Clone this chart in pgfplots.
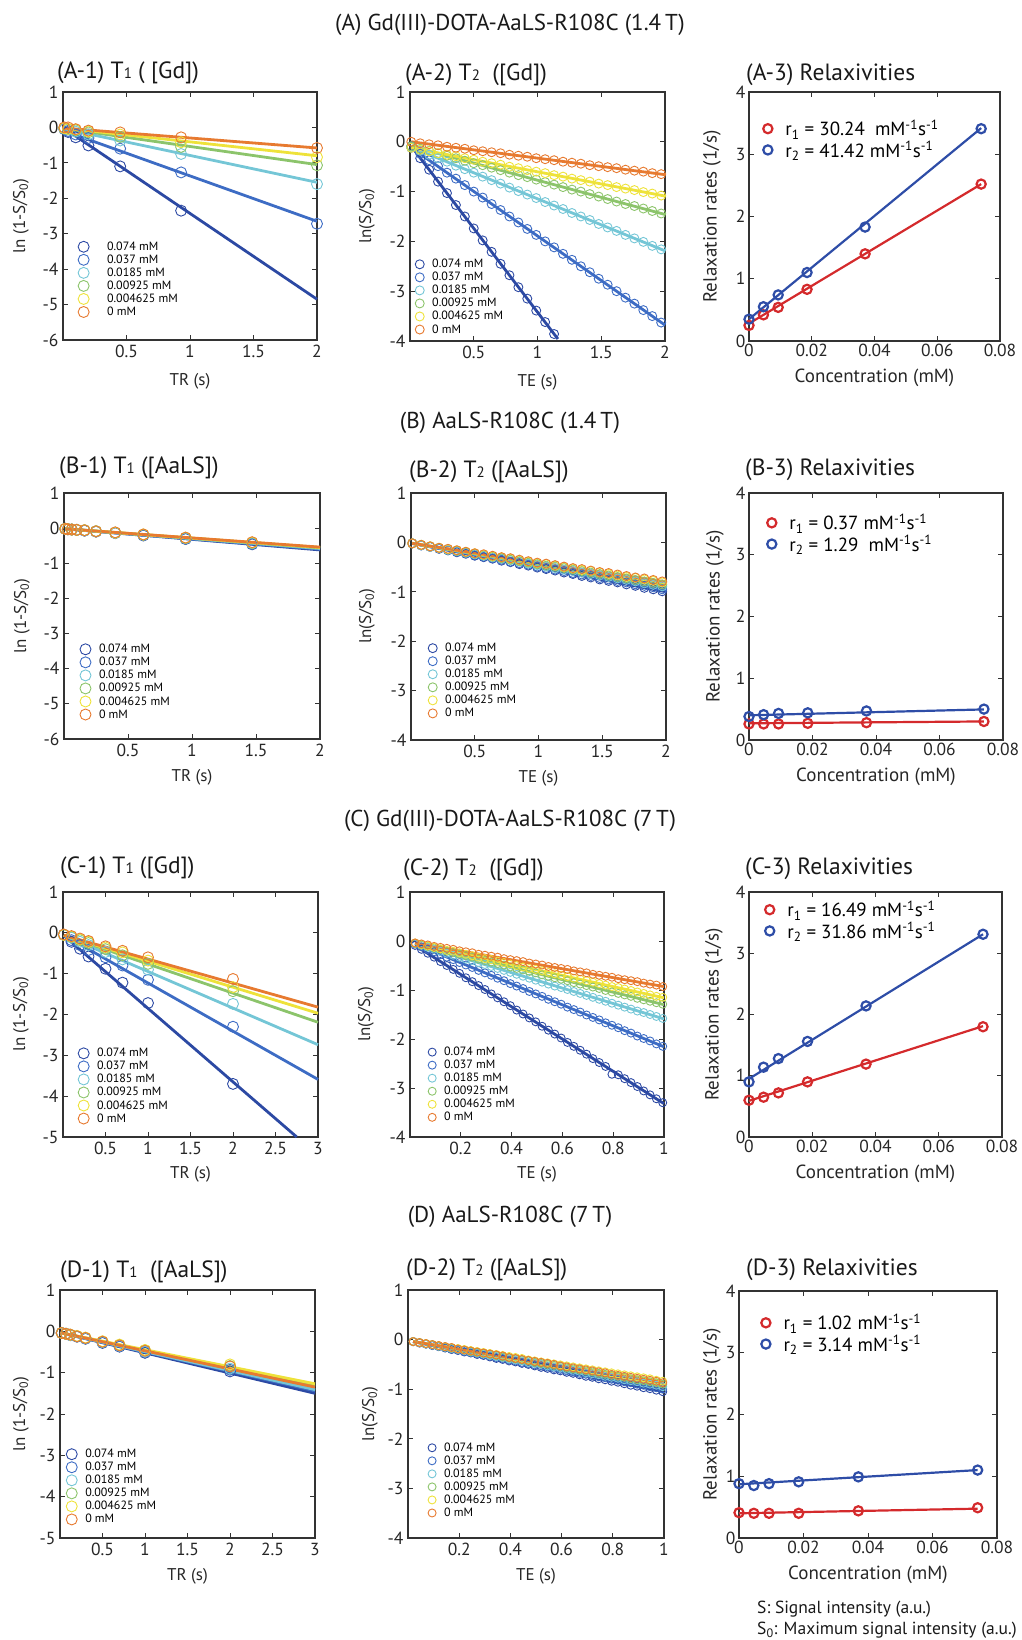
\documentclass[border=0pt]{standalone}
\usepackage{pgfplots}
\pgfplotsset{compat=1.18}
\usepackage{pgfplotstable}
\usepackage{fontspec}
\setmainfont{PT Sans}

\definecolor{cA}{HTML}{2C49A3}
\definecolor{cB}{HTML}{3D6CC4}
\definecolor{cC}{HTML}{74C6D6}
\definecolor{cD}{HTML}{8CC46B}
\definecolor{cE}{HTML}{EEE23A}
\definecolor{cF}{HTML}{E77A30}
\definecolor{rred}{HTML}{D42A2C}
\definecolor{rblue}{HTML}{2E4DA7}
\definecolor{axc}{HTML}{333333}

% T1 / T2 data: t = TR or TE (s), a..f = 0.074, 0.037, 0.0185, 0.00925, 0.004625, 0 mM
\pgfplotstableread{
t a b c d e f
0.01 -0.03 -0.05 -0.03 -0.02 -0.02 0.00
0.04 -0.13 -0.10 -0.06 -0.05 -0.04 0.00
0.10 -0.28 -0.20 -0.12 -0.08 -0.06 -0.05
0.20 -0.51 -0.30 -0.20 -0.14 -0.11 -0.09
0.45 -1.10 -0.60 -0.37 -0.27 -0.20 -0.14
0.93 -2.35 -1.27 -0.75 -0.55 -0.42 -0.28
2.00 nan -2.72 -1.60 -1.07 -0.84 -0.58
}\tAone

\pgfplotstableread{
t a b c d e f
0.01 -0.09 -0.12 -0.11 -0.09 -0.12 0.00
0.08 -0.33 -0.24 -0.18 -0.14 -0.16 -0.03
0.15 -0.56 -0.37 -0.26 -0.18 -0.19 -0.05
0.22 -0.80 -0.49 -0.33 -0.23 -0.23 -0.07
0.29 -1.03 -0.62 -0.40 -0.28 -0.26 -0.10
0.36 -1.27 -0.74 -0.48 -0.33 -0.29 -0.12
0.43 -1.50 -0.87 -0.55 -0.38 -0.33 -0.14
0.50 -1.74 -1.00 -0.62 -0.43 -0.36 -0.17
0.57 -1.98 -1.12 -0.70 -0.47 -0.40 -0.19
0.64 -2.21 -1.25 -0.77 -0.52 -0.43 -0.21
0.71 -2.45 -1.37 -0.84 -0.57 -0.46 -0.23
0.78 -2.68 -1.50 -0.92 -0.62 -0.50 -0.26
0.85 -2.92 -1.62 -0.99 -0.67 -0.53 -0.28
0.92 -3.15 -1.75 -1.06 -0.71 -0.57 -0.30
0.99 -3.39 -1.87 -1.13 -0.76 -0.60 -0.33
1.06 -3.62 -2.00 -1.21 -0.81 -0.63 -0.35
1.13 -3.86 -2.12 -1.28 -0.86 -0.67 -0.37
1.20 nan -2.25 -1.35 -0.91 -0.70 -0.40
1.27 nan -2.37 -1.43 -0.96 -0.74 -0.42
1.34 nan -2.50 -1.50 -1.00 -0.77 -0.44
1.41 nan -2.62 -1.57 -1.05 -0.80 -0.47
1.48 nan -2.75 -1.65 -1.10 -0.84 -0.49
1.55 nan -2.87 -1.72 -1.15 -0.87 -0.51
1.62 nan -3.00 -1.79 -1.20 -0.91 -0.53
1.69 nan -3.13 -1.87 -1.25 -0.94 -0.56
1.76 nan -3.25 -1.94 -1.29 -0.97 -0.58
1.83 nan -3.38 -2.01 -1.34 -1.01 -0.60
1.90 nan -3.50 -2.09 -1.39 -1.04 -0.63
1.97 nan -3.63 -2.16 -1.44 -1.08 -0.65
}\tAtwo

\pgfplotstableread{
t a b c d e f
0.01 -0.02 -0.02 -0.02 -0.02 -0.02 -0.02
0.03 -0.03 -0.03 -0.03 -0.03 -0.03 -0.03
0.06 -0.04 -0.04 -0.04 -0.04 -0.04 -0.04
0.10 -0.05 -0.05 -0.05 -0.05 -0.05 -0.05
0.16 -0.07 -0.07 -0.06 -0.06 -0.06 -0.06
0.25 -0.10 -0.09 -0.09 -0.09 -0.09 -0.09
0.40 -0.14 -0.14 -0.13 -0.13 -0.13 -0.12
0.62 -0.21 -0.20 -0.19 -0.19 -0.18 -0.18
0.95 -0.31 -0.30 -0.29 -0.28 -0.27 -0.27
1.47 -0.46 -0.45 -0.43 -0.42 -0.41 -0.40
}\tBone

\pgfplotstableread{
t a b c d e f
0.01 -0.02 -0.02 -0.02 -0.02 -0.02 -0.02
0.08 -0.06 -0.06 -0.06 -0.05 -0.05 -0.05
0.15 -0.09 -0.09 -0.09 -0.08 -0.08 -0.08
0.22 -0.13 -0.12 -0.12 -0.11 -0.11 -0.11
0.29 -0.16 -0.16 -0.15 -0.14 -0.14 -0.13
0.36 -0.20 -0.19 -0.18 -0.17 -0.16 -0.16
0.43 -0.23 -0.22 -0.21 -0.20 -0.19 -0.19
0.50 -0.27 -0.26 -0.24 -0.23 -0.22 -0.22
0.57 -0.30 -0.29 -0.27 -0.26 -0.25 -0.24
0.64 -0.33 -0.32 -0.30 -0.29 -0.28 -0.27
0.71 -0.37 -0.35 -0.33 -0.32 -0.30 -0.30
0.78 -0.40 -0.39 -0.36 -0.35 -0.33 -0.32
0.85 -0.44 -0.42 -0.39 -0.38 -0.36 -0.35
0.92 -0.47 -0.45 -0.43 -0.41 -0.39 -0.38
0.99 -0.51 -0.49 -0.46 -0.44 -0.42 -0.41
1.06 -0.54 -0.52 -0.49 -0.47 -0.44 -0.43
1.13 -0.57 -0.55 -0.52 -0.49 -0.47 -0.46
1.20 -0.61 -0.58 -0.55 -0.52 -0.50 -0.49
1.27 -0.64 -0.62 -0.58 -0.55 -0.53 -0.52
1.34 -0.68 -0.65 -0.61 -0.58 -0.56 -0.54
1.41 -0.71 -0.68 -0.64 -0.61 -0.58 -0.57
1.48 -0.75 -0.72 -0.67 -0.64 -0.61 -0.60
1.55 -0.78 -0.75 -0.70 -0.67 -0.64 -0.62
1.62 -0.81 -0.78 -0.73 -0.70 -0.67 -0.65
1.69 -0.85 -0.81 -0.76 -0.73 -0.70 -0.68
1.76 -0.88 -0.85 -0.79 -0.76 -0.72 -0.71
1.83 -0.92 -0.88 -0.83 -0.79 -0.75 -0.73
1.90 -0.95 -0.91 -0.86 -0.82 -0.78 -0.76
1.97 -0.99 -0.95 -0.89 -0.85 -0.81 -0.79
}\tBtwo

\pgfplotstableread{
t a b c d e f
0.01 -0.05 -0.05 -0.05 -0.05 -0.05 -0.04
0.10 -0.22 -0.18 -0.12 -0.10 -0.09 -0.08
0.20 -0.39 -0.30 -0.22 -0.18 -0.16 -0.14
0.30 -0.58 -0.42 -0.30 -0.25 -0.22 -0.20
0.50 -0.88 -0.60 -0.47 -0.40 -0.36 -0.33
0.70 -1.22 -0.80 -0.65 -0.55 -0.48 -0.44
1.00 -1.72 -1.15 -0.90 -0.76 -0.68 -0.60
2.00 -3.70 -2.30 -1.74 -1.43 -1.33 -1.13
}\tCone

\pgfplotstableread{
t a b c d e f
0.020 -0.09 -0.06 -0.05 -0.05 -0.04 -0.04
0.045 -0.17 -0.12 -0.09 -0.08 -0.07 -0.06
0.070 -0.25 -0.17 -0.13 -0.11 -0.10 -0.08
0.095 -0.33 -0.22 -0.17 -0.14 -0.13 -0.11
0.120 -0.42 -0.28 -0.21 -0.17 -0.16 -0.13
0.145 -0.50 -0.33 -0.25 -0.21 -0.19 -0.15
0.170 -0.58 -0.38 -0.29 -0.24 -0.21 -0.17
0.195 -0.66 -0.44 -0.33 -0.27 -0.24 -0.20
0.220 -0.75 -0.49 -0.37 -0.30 -0.27 -0.22
0.245 -0.83 -0.54 -0.40 -0.33 -0.30 -0.24
0.270 -0.91 -0.60 -0.44 -0.37 -0.33 -0.27
0.295 -0.99 -0.65 -0.48 -0.40 -0.36 -0.29
0.320 -1.08 -0.70 -0.52 -0.43 -0.38 -0.31
0.345 -1.16 -0.76 -0.56 -0.46 -0.41 -0.33
0.370 -1.24 -0.81 -0.60 -0.49 -0.44 -0.36
0.395 -1.32 -0.87 -0.64 -0.53 -0.47 -0.38
0.420 -1.41 -0.92 -0.68 -0.56 -0.50 -0.40
0.445 -1.49 -0.97 -0.72 -0.59 -0.53 -0.42
0.470 -1.57 -1.03 -0.76 -0.62 -0.56 -0.45
0.495 -1.65 -1.08 -0.80 -0.65 -0.58 -0.47
0.520 -1.74 -1.13 -0.84 -0.69 -0.61 -0.49
0.545 -1.82 -1.19 -0.88 -0.72 -0.64 -0.52
0.570 -1.90 -1.24 -0.92 -0.75 -0.67 -0.54
0.595 -1.98 -1.29 -0.95 -0.78 -0.70 -0.56
0.620 -2.07 -1.35 -0.99 -0.81 -0.73 -0.58
0.645 -2.15 -1.40 -1.03 -0.85 -0.76 -0.61
0.670 -2.23 -1.45 -1.07 -0.88 -0.78 -0.63
0.695 -2.31 -1.51 -1.11 -0.91 -0.81 -0.65
0.720 -2.40 -1.56 -1.15 -0.94 -0.84 -0.68
0.745 -2.48 -1.61 -1.19 -0.97 -0.87 -0.70
0.770 -2.56 -1.67 -1.23 -1.01 -0.90 -0.72
0.795 -2.72 -1.72 -1.27 -1.04 -0.93 -0.74
0.820 -2.73 -1.77 -1.31 -1.07 -0.95 -0.77
0.845 -2.81 -1.83 -1.35 -1.10 -0.98 -0.79
0.870 -2.89 -1.88 -1.39 -1.13 -1.01 -0.81
0.895 -2.97 -1.94 -1.43 -1.17 -1.04 -0.83
0.920 -3.06 -1.99 -1.46 -1.20 -1.07 -0.86
0.945 -3.14 -2.04 -1.50 -1.23 -1.10 -0.88
0.970 -3.22 -2.10 -1.54 -1.26 -1.13 -0.90
0.995 -3.30 -2.15 -1.58 -1.29 -1.15 -0.93
}\tCtwo

\pgfplotstableread{
t a b c d e f
0.02 -0.04 -0.04 -0.04 -0.04 -0.04 -0.04
0.07 -0.06 -0.06 -0.06 -0.06 -0.06 -0.06
0.12 -0.09 -0.09 -0.09 -0.08 -0.08 -0.08
0.20 -0.13 -0.12 -0.12 -0.12 -0.11 -0.12
0.30 -0.18 -0.17 -0.17 -0.16 -0.15 -0.16
0.50 -0.28 -0.27 -0.26 -0.25 -0.24 -0.25
0.70 -0.37 -0.36 -0.35 -0.33 -0.32 -0.34
1.00 -0.52 -0.50 -0.49 -0.46 -0.45 -0.47
2.00 -0.97 -0.93 -0.90 -0.84 -0.80 -0.85
}\tDone

\pgfplotstableread{
t a b c d e f
0.020 -0.04 -0.04 -0.04 -0.04 -0.04 -0.04
0.045 -0.07 -0.06 -0.06 -0.06 -0.06 -0.06
0.070 -0.09 -0.09 -0.09 -0.08 -0.08 -0.08
0.095 -0.12 -0.11 -0.11 -0.10 -0.10 -0.10
0.120 -0.14 -0.14 -0.13 -0.13 -0.12 -0.12
0.145 -0.17 -0.16 -0.15 -0.15 -0.14 -0.14
0.170 -0.20 -0.19 -0.18 -0.17 -0.16 -0.16
0.195 -0.22 -0.21 -0.20 -0.19 -0.18 -0.19
0.220 -0.25 -0.24 -0.22 -0.21 -0.20 -0.21
0.245 -0.27 -0.26 -0.25 -0.24 -0.22 -0.23
0.270 -0.30 -0.28 -0.27 -0.26 -0.24 -0.25
0.295 -0.32 -0.31 -0.29 -0.28 -0.26 -0.27
0.320 -0.35 -0.33 -0.32 -0.30 -0.28 -0.29
0.345 -0.38 -0.36 -0.34 -0.32 -0.30 -0.31
0.370 -0.40 -0.38 -0.36 -0.35 -0.32 -0.33
0.395 -0.43 -0.41 -0.39 -0.37 -0.34 -0.36
0.420 -0.45 -0.43 -0.41 -0.39 -0.36 -0.38
0.445 -0.48 -0.46 -0.43 -0.41 -0.38 -0.40
0.470 -0.50 -0.48 -0.46 -0.43 -0.41 -0.42
0.495 -0.53 -0.51 -0.48 -0.46 -0.43 -0.44
0.520 -0.56 -0.53 -0.50 -0.48 -0.45 -0.46
0.545 -0.58 -0.55 -0.53 -0.50 -0.47 -0.48
0.570 -0.61 -0.58 -0.55 -0.52 -0.49 -0.50
0.595 -0.63 -0.60 -0.57 -0.54 -0.51 -0.53
0.620 -0.66 -0.63 -0.60 -0.57 -0.53 -0.55
0.645 -0.68 -0.65 -0.62 -0.59 -0.55 -0.57
0.670 -0.71 -0.68 -0.64 -0.61 -0.57 -0.59
0.695 -0.74 -0.70 -0.67 -0.63 -0.59 -0.61
0.720 -0.76 -0.73 -0.69 -0.65 -0.61 -0.63
0.745 -0.79 -0.75 -0.71 -0.68 -0.63 -0.65
0.770 -0.81 -0.77 -0.74 -0.70 -0.65 -0.67
0.795 -0.84 -0.80 -0.76 -0.72 -0.67 -0.70
0.820 -0.86 -0.82 -0.78 -0.74 -0.69 -0.72
0.845 -0.89 -0.85 -0.81 -0.76 -0.71 -0.74
0.870 -0.92 -0.87 -0.83 -0.79 -0.73 -0.76
0.895 -0.94 -0.90 -0.85 -0.81 -0.75 -0.78
0.920 -0.97 -0.92 -0.88 -0.83 -0.77 -0.80
0.945 -0.99 -0.95 -0.90 -0.85 -0.79 -0.82
0.970 -1.02 -0.97 -0.92 -0.87 -0.82 -0.84
0.995 -1.05 -1.00 -0.95 -0.90 -0.84 -0.87
}\tDtwo

% relaxation rates (1/s): c = concentration (mM), r1, r2
\pgfplotstableread{
c r1 r2
0      0.25 0.35
0.0046 0.42 0.55
0.0093 0.54 0.74
0.0185 0.83 1.10
0.037  1.40 1.83
0.074  2.52 3.41
}\rA
\pgfplotstableread{
c r1 r2
0      0.26 0.38
0.0046 0.26 0.41
0.0093 0.26 0.43
0.0185 0.27 0.44
0.037  0.28 0.47
0.074  0.30 0.50
}\rB
\pgfplotstableread{
c r1 r2
0      0.60 0.90
0.0046 0.65 1.14
0.0093 0.72 1.28
0.0185 0.90 1.56
0.037  1.19 2.14
0.074  1.80 3.31
}\rC
\pgfplotstableread{
c r1 r2
0      0.41 0.88
0.0046 0.40 0.85
0.0093 0.40 0.88
0.0185 0.40 0.91
0.037  0.44 0.99
0.074  0.49 1.10
}\rD

\pgfplotsset{
  base/.style={scale only axis, anchor=south west, clip=false,
    scaled x ticks=false, scaled y ticks=false,
    axis line style={axc, line width=1.1pt},
    every tick/.style={axc, line width=0.8pt}, major tick length=5pt,
    tick align=inside,
    tick label style={font=\fontsize{17.5}{18}\selectfont, text=black!85},
    label style={font=\fontsize{17}{19}\selectfont, text=black!85},
    legend cell align=left},
  tpanel/.style={base,
    yticklabel style={xshift=-1pt}, xticklabel style={yshift=-2pt},
    legend style={draw=none, fill=none, anchor=north west,
      font=\fontsize{12}{13}\selectfont, row sep=1pt, column sep=7pt,
      nodes={inner sep=1pt}}},
  rpanel/.style={base, xmin=0, xmax=0.08, ymin=0, ymax=4,
    xtick={0,0.02,0.04,0.06,0.08}, xticklabels={0,0.02,0.04,0.06,0.08},
    ytick={0,1,2,3,4}, yticklabels={0,1,2,3,4},
    xlabel={Concentration (mM)}, ylabel={Relaxation rates (1/s)},
    label style={font=\fontsize{19}{21}\selectfont},
    legend style={draw=none, fill=none, anchor=north west,
      font=\fontsize{19}{21}\selectfont, row sep=2pt, column sep=12pt,
      nodes={inner sep=1pt}}},
  xl/.style={xlabel style={at={([yshift=-#1]axis description cs:0.5,0)}, anchor=center}},
  yl/.style={ylabel style={at={([xshift=-#1]axis description cs:0,0.5)}, anchor=center}},
  fitl/.style={line width=2.8pt, no marks, forget plot},
  rfit/.style={line width=2.2pt, no marks, forget plot},
  rmark/.style={only marks, mark=o, mark size=4.6pt, mark options={line width=2.2pt}},
}

\newcommand\sixmarks[2]{%
  \addplot[only marks, mark=o, mark size=#2, cA, mark options={line width=0.9pt}] table[x=t,y=a]{#1};
  \addplot[only marks, mark=o, mark size=#2, cB, mark options={line width=0.9pt}] table[x=t,y=b]{#1};
  \addplot[only marks, mark=o, mark size=#2, cC, mark options={line width=0.9pt}] table[x=t,y=c]{#1};
  \addplot[only marks, mark=o, mark size=#2, cD, mark options={line width=0.9pt}] table[x=t,y=d]{#1};
  \addplot[only marks, mark=o, mark size=#2, cE, mark options={line width=0.9pt}] table[x=t,y=e]{#1};
  \addplot[only marks, mark=o, mark size=#2, cF, mark options={line width=0.9pt}] table[x=t,y=f]{#1};
  \legend{0.074 mM,0.037 mM,0.0185 mM,0.00925 mM,0.004625 mM,0 mM}}
\newcommand\rmarks[1]{%
  \addplot[rmark, rred] table[x=c,y=r1]{#1};
  \addplot[rmark, rblue] table[x=c,y=r2]{#1};}
\newcommand\ts[1]{{\fontsize{15}{12}\selectfont #1}}

\begin{document}
\begin{tikzpicture}
\useasboundingbox (0pt,0pt) rectangle (1021pt,1640pt);

% ---------------- row A ----------------
\begin{axis}[tpanel, at={(63pt,1300pt)}, width=254pt, height=248pt,
  xmin=0, xmax=2, ymin=-6, ymax=1,
  xtick={0.5,1,1.5,2}, xticklabels={0.5,1,1.5,2},
  ytick={-6,-5,-4,-3,-2,-1,0,1}, yticklabels={-6,-5,-4,-3,-2,-1,0,1},
  xlabel={TR (s)}, ylabel={ln (1-S/S\textsubscript{0})}, xl=41pt, yl=42pt,
  legend style={at={(0.047,0.409)}, column sep=17pt}]
\sixmarks{\tAone}{5.5pt}
\addplot[fitl,cA] coordinates {(0.01,-0.03) (2,-4.85)};
\addplot[fitl,cB] coordinates {(0.01,-0.10) (2,-2.65)};
\addplot[fitl,cC] coordinates {(0.01,-0.04) (2,-1.55)};
\addplot[fitl,cD] coordinates {(0.01,-0.03) (2,-1.05)};
\addplot[fitl,cE] coordinates {(0.01,-0.02) (2,-0.80)};
\addplot[fitl,cF] coordinates {(0.01,-0.02) (2,-0.58)};
\end{axis}

\begin{axis}[tpanel, at={(410pt,1299pt)}, width=255pt, height=249pt,
  xmin=0, xmax=2, ymin=-4, ymax=1,
  xtick={0.5,1,1.5,2}, xticklabels={0.5,1,1.5,2},
  ytick={-4,-3,-2,-1,0,1}, yticklabels={-4,-3,-2,-1,0,1},
  xlabel={TE (s)}, ylabel={ln(S/S\textsubscript{0})}, xl=41pt, yl=43pt,
  legend style={at={(0.008,0.341)}}]
\sixmarks{\tAtwo}{4.5pt}
\addplot[fitl,cA] coordinates {(0.01,-0.09) (1.16,-3.96)};
\addplot[fitl,cB] coordinates {(0.01,-0.12) (2,-3.68)};
\addplot[fitl,cC] coordinates {(0.01,-0.11) (2,-2.19)};
\addplot[fitl,cD] coordinates {(0.01,-0.09) (2,-1.46)};
\addplot[fitl,cE] coordinates {(0.01,-0.12) (2,-1.09)};
\addplot[fitl,cF] coordinates {(0.01,0.00) (2,-0.66)};
\end{axis}

\begin{axis}[rpanel, at={(749pt,1299pt)}, width=251pt, height=249pt,
  xl=37pt, yl=37pt, legend style={at={(0.044,0.90)}}]
\rmarks{\rA}
\legend{r\textsubscript{1} = 30.24\ \ mM\textsuperscript{-1}s\textsuperscript{-1}, r\textsubscript{2} = 41.42 mM\textsuperscript{-1}s\textsuperscript{-1}}
\addplot[rfit,rred] coordinates {(0,0.28) (0.074,2.52)};
\addplot[rfit,rblue] coordinates {(0,0.35) (0.074,3.42)};
\end{axis}

% ---------------- row B ----------------
\begin{axis}[tpanel, at={(64pt,901pt)}, width=256pt, height=246pt,
  xmin=0, xmax=2, ymin=-6, ymax=1,
  xtick={0.5,1,1.5,2}, xticklabels={0.5,1,1.5,2},
  ytick={-6,-5,-4,-3,-2,-1,0,1}, yticklabels={-6,-5,-4,-3,-2,-1,0,1},
  xlabel={TR (s)}, ylabel={ln (1-S/S\textsubscript{0})}, xl=38pt, yl=42pt,
  legend style={at={(0.05,0.398)}}]
\sixmarks{\tBone}{5.5pt}
\addplot[fitl,cA] coordinates {(0.01,-0.02) (2,-0.62)};
\addplot[fitl,cB] coordinates {(0.01,-0.02) (2,-0.60)};
\addplot[fitl,cC] coordinates {(0.01,-0.02) (2,-0.58)};
\addplot[fitl,cD] coordinates {(0.01,-0.02) (2,-0.56)};
\addplot[fitl,cE] coordinates {(0.01,-0.02) (2,-0.55)};
\addplot[fitl,cF] coordinates {(0.01,-0.02) (2,-0.54)};
\end{axis}

\begin{axis}[tpanel, at={(411pt,900pt)}, width=255pt, height=247pt,
  xmin=0, xmax=2, ymin=-4, ymax=1,
  xtick={0.5,1,1.5,2}, xticklabels={0.5,1,1.5,2},
  ytick={-4,-3,-2,-1,0,1}, yticklabels={-4,-3,-2,-1,0,1},
  xlabel={TE (s)}, ylabel={ln(S/S\textsubscript{0})}, xl=38pt, yl=44pt,
  legend style={at={(0.055,0.405)}}]
\sixmarks{\tBtwo}{4.5pt}
\addplot[fitl,cA] coordinates {(0.01,-0.02) (2,-1.00)};
\addplot[fitl,cB] coordinates {(0.01,-0.02) (2,-0.96)};
\addplot[fitl,cC] coordinates {(0.01,-0.02) (2,-0.90)};
\addplot[fitl,cD] coordinates {(0.01,-0.02) (2,-0.86)};
\addplot[fitl,cE] coordinates {(0.01,-0.02) (2,-0.82)};
\addplot[fitl,cF] coordinates {(0.01,-0.02) (2,-0.80)};
\end{axis}

\begin{axis}[rpanel, at={(749pt,900pt)}, width=254pt, height=247pt,
  xl=37pt, yl=34pt, legend style={at={(0.059,0.927)}}]
\rmarks{\rB}
\legend{r\textsubscript{1} = 0.37 mM\textsuperscript{-1}s\textsuperscript{-1}, r\textsubscript{2} = 1.29\ \ mM\textsuperscript{-1}s\textsuperscript{-1}}
\addplot[rfit,rred] coordinates {(0,0.27) (0.074,0.30)};
\addplot[rfit,rblue] coordinates {(0,0.40) (0.074,0.495)};
\end{axis}

% ---------------- row C ----------------
\begin{axis}[tpanel, at={(63pt,503pt)}, width=255pt, height=245pt,
  xmin=0, xmax=3, ymin=-5, ymax=1,
  xtick={0.5,1,1.5,2,2.5,3}, xticklabels={0.5,1,1.5,2,2.5,3},
  ytick={-5,-4,-3,-2,-1,0,1}, yticklabels={-5,-4,-3,-2,-1,0,1},
  xlabel={TR (s)}, ylabel={ln (1-S/S\textsubscript{0})}, xl=37pt, yl=42pt,
  legend style={at={(0.047,0.375)}}]
\sixmarks{\tCone}{5.5pt}
\addplot[fitl,cA] coordinates {(0.01,-0.07) (2.75,-5.00)};
\addplot[fitl,cB] coordinates {(0.01,-0.06) (3,-3.59)};
\addplot[fitl,cC] coordinates {(0.01,-0.06) (3,-2.74)};
\addplot[fitl,cD] coordinates {(0.01,-0.06) (3,-2.19)};
\addplot[fitl,cE] coordinates {(0.01,-0.06) (3,-1.97)};
\addplot[fitl,cF] coordinates {(0.01,-0.06) (3,-1.82)};
\end{axis}

\begin{axis}[tpanel, at={(410pt,503pt)}, width=254pt, height=245pt,
  xmin=0, xmax=1, ymin=-4, ymax=1,
  xtick={0.2,0.4,0.6,0.8,1}, xticklabels={0.2,0.4,0.6,0.8,1},
  ytick={-4,-3,-2,-1,0,1}, yticklabels={-4,-3,-2,-1,0,1},
  xlabel={TE (s)}, ylabel={ln(S/S\textsubscript{0})}, xl=37pt, yl=44pt,
  legend style={at={(0.059,0.38)}}]
\sixmarks{\tCtwo}{4pt}
\addplot[fitl,cA] coordinates {(0.02,-0.09) (1,-3.32)};
\addplot[fitl,cB] coordinates {(0.02,-0.06) (1,-2.16)};
\addplot[fitl,cC] coordinates {(0.02,-0.05) (1,-1.59)};
\addplot[fitl,cD] coordinates {(0.02,-0.05) (1,-1.30)};
\addplot[fitl,cE] coordinates {(0.02,-0.04) (1,-1.16)};
\addplot[fitl,cF] coordinates {(0.02,-0.04) (1,-0.93)};
\end{axis}

\begin{axis}[rpanel, at={(749pt,503pt)}, width=253pt, height=245pt,
  xl=37pt, yl=35pt, legend style={at={(0.051,0.976)}}]
\rmarks{\rC}
\legend{r\textsubscript{1} = 16.49 mM\textsuperscript{-1}s\textsuperscript{-1}, r\textsubscript{2} = 31.86 mM\textsuperscript{-1}s\textsuperscript{-1}}
\addplot[rfit,rred] coordinates {(0,0.59) (0.074,1.81)};
\addplot[rfit,rblue] coordinates {(0,0.95) (0.074,3.31)};
\end{axis}

% ---------------- row D ----------------
\begin{axis}[tpanel, at={(60pt,102pt)}, width=255pt, height=248pt,
  xmin=0, xmax=3, ymin=-5, ymax=1,
  xtick={0.5,1,1.5,2,2.5,3}, xticklabels={0.5,1,1.5,2,2.5,3},
  ytick={-5,-4,-3,-2,-1,0,1}, yticklabels={-5,-4,-3,-2,-1,0,1},
  xlabel={TR (s)}, ylabel={ln (1-S/S\textsubscript{0})}, xl=38pt, yl=39pt,
  legend style={at={(0.012,0.371)}}]
\sixmarks{\tDone}{5.5pt}
\addplot[fitl,cA] coordinates {(0.02,-0.04) (3,-1.50)};
\addplot[fitl,cB] coordinates {(0.02,-0.04) (3,-1.44)};
\addplot[fitl,cC] coordinates {(0.02,-0.04) (3,-1.41)};
\addplot[fitl,cD] coordinates {(0.02,-0.04) (3,-1.32)};
\addplot[fitl,cE] coordinates {(0.02,-0.04) (3,-1.27)};
\addplot[fitl,cF] coordinates {(0.02,-0.04) (3,-1.35)};
\end{axis}

\begin{axis}[tpanel, at={(408pt,102pt)}, width=256pt, height=248pt,
  xmin=0, xmax=1, ymin=-4, ymax=1,
  xtick={0.2,0.4,0.6,0.8,1}, xticklabels={0.2,0.4,0.6,0.8,1},
  ytick={-4,-3,-2,-1,0,1}, yticklabels={-4,-3,-2,-1,0,1},
  xlabel={TE (s)}, ylabel={ln(S/S\textsubscript{0})}, xl=38pt, yl=38pt,
  legend style={at={(0.066,0.397)}}]
\sixmarks{\tDtwo}{4pt}
\addplot[fitl,cA] coordinates {(0.02,-0.04) (1,-1.05)};
\addplot[fitl,cB] coordinates {(0.02,-0.04) (1,-1.00)};
\addplot[fitl,cC] coordinates {(0.02,-0.04) (1,-0.95)};
\addplot[fitl,cD] coordinates {(0.02,-0.04) (1,-0.90)};
\addplot[fitl,cE] coordinates {(0.02,-0.04) (1,-0.84)};
\addplot[fitl,cF] coordinates {(0.02,-0.04) (1,-0.87)};
\end{axis}

\begin{axis}[rpanel, at={(739pt,102pt)}, width=258pt, height=247pt,
  xl=37pt, yl=27pt, legend style={at={(0.074,0.919)}}]
\rmarks{\rD}
\legend{r\textsubscript{1} = 1.02 mM\textsuperscript{-1}s\textsuperscript{-1}, r\textsubscript{2} = 3.14 mM\textsuperscript{-1}s\textsuperscript{-1}}
\addplot[rfit,rred] coordinates {(0,0.40) (0.074,0.475)};
\addplot[rfit,rblue] coordinates {(0,0.87) (0.074,1.10)};
\end{axis}

% ---------------- titles ----------------
\begin{scope}[every node/.style={text=black!90, inner sep=0pt}]
\node[font=\fontsize{23}{25}\selectfont] at (510pt,1615pt) {(A) Gd(III)-DOTA-AaLS-R108C (1.4\,T)};
\node[font=\fontsize{23}{25}\selectfont] at (510pt,1217pt) {(B) AaLS-R108C (1.4\,T)};
\node[font=\fontsize{23}{25}\selectfont] at (510pt,819pt) {(C) Gd(III)-DOTA-AaLS-R108C (7\,T)};
\node[font=\fontsize{23}{25}\selectfont] at (510pt,423pt) {(D) AaLS-R108C (7\,T)};

\node[anchor=west, font=\fontsize{23.5}{25}\selectfont] at (57pt,1567pt) {(A-1) T\ts{1} ( [Gd])};
\node[anchor=west, font=\fontsize{23.5}{25}\selectfont] at (405pt,1565pt) {(A-2) T\ts{2}\ \ ([Gd])};
\node[anchor=west, font=\fontsize{23.5}{25}\selectfont] at (746pt,1565pt) {(A-3) Relaxivities};
\node[anchor=west, font=\fontsize{23.5}{25}\selectfont] at (59pt,1172pt) {(B-1) T\ts{1} ([AaLS])};
\node[anchor=west, font=\fontsize{23.5}{25}\selectfont] at (409pt,1168pt) {(B-2) T\ts{2} ([AaLS])};
\node[anchor=west, font=\fontsize{23.5}{25}\selectfont] at (745pt,1170pt) {(B-3) Relaxivities};
\node[anchor=west, font=\fontsize{23.5}{25}\selectfont] at (60pt,772pt) {(C-1) T\ts{1} ([Gd])};
\node[anchor=west, font=\fontsize{23.5}{25}\selectfont] at (403pt,770pt) {(C-2) T\ts{2}\ \ ([Gd])};
\node[anchor=west, font=\fontsize{23.5}{25}\selectfont] at (745pt,771pt) {(C-3) Relaxivities};
\node[anchor=west, font=\fontsize{23.5}{25}\selectfont] at (60pt,368pt) {(D-1) T\ts{1}\ \ ([AaLS])};
\node[anchor=west, font=\fontsize{23.5}{25}\selectfont] at (406pt,370pt) {(D-2) T\ts{2} ([AaLS])};
\node[anchor=west, font=\fontsize{23.5}{25}\selectfont] at (746pt,370pt) {(D-3) Relaxivities};

\node[anchor=west, font=\fontsize{17.5}{19}\selectfont] at (757pt,31pt) {S: Signal intensity (a.u.)};
\node[anchor=west, font=\fontsize{17.5}{19}\selectfont] at (757pt,10pt) {S\textsubscript{0}: Maximum signal intensity (a.u.)};
\end{scope}
\end{tikzpicture}
\end{document}
